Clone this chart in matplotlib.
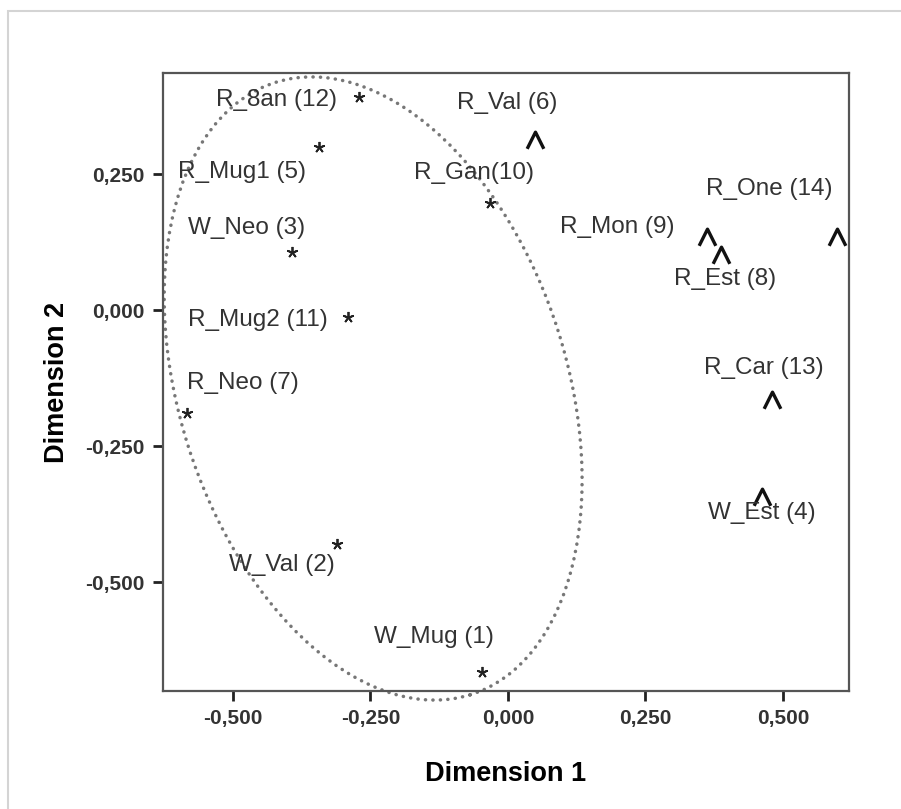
import matplotlib
matplotlib.use("Agg")
import matplotlib.pyplot as plt
from matplotlib.patches import Ellipse, Rectangle
from matplotlib.path import Path
from matplotlib.ticker import FuncFormatter

plt.rcParams['font.family'] = ['Liberation Sans', 'DejaVu Sans']

# MDS object points (dimension 1, dimension 2)
labels = ["W_Mug (1)", "W_Val (2)", "W_Neo (3)", "W_Est (4)", "R_Mug1 (5)",
          "R_Val (6)", "R_Neo (7)", "R_Est (8)", "R_Mon (9)", "R_Gan(10)",
          "R_Mug2 (11)", "R_8an (12)", "R_Car (13)", "R_One (14)"]
dim1 = [-0.047, -0.311, -0.393, 0.462, -0.344, 0.049, -0.584, 0.387, 0.362,
        -0.033, -0.291, -0.271, 0.480, 0.598]
dim2 = [-0.665, -0.430, 0.107, -0.344, 0.300, 0.313, -0.189, 0.101, 0.134,
        0.197, -0.013, 0.392, -0.165, 0.134]
group = ["star", "star", "star", "caret", "star", "caret", "star", "caret",
         "caret", "star", "star", "star", "caret", "caret"]

# label offsets from the point, in pixels
label_offsets = [(-48, 35), (-55, -21), (-45, 24), (0, -16), (-77, -25),
                 (-28, 37), (56, 30), (4, -24), (-90, 10), (-16, 30),
                 (-90, -3), (-82, -3), (-8, 32), (-68, 48)]

xticks = [-0.5, -0.25, 0.0, 0.25, 0.5]
yticks = [-0.5, -0.25, 0.0, 0.25]

fig = plt.figure(figsize=(9.01, 8.09), dpi=100)

# light outer frame
fig.add_artist(Rectangle((8 / 901, -0.5), 2, 0.9864 + 0.5, transform=fig.transFigure,
                         fill=False, edgecolor='#d4d4d4', lw=1.5))

ax = fig.add_axes([0.1809, 0.1459, 0.7614, 0.7639])

caret = Path([(-0.5, -0.5), (0, 0.5), (0.5, -0.5)],
             [Path.MOVETO, Path.LINETO, Path.LINETO])

for x, y, g in zip(dim1, dim2, group):
    if g == "star":
        ax.plot(x, y, marker=(5, 2, 0), markersize=8, color='#222222',
                markeredgewidth=1.3, linestyle='none')
    else:
        ax.plot(x, y, marker=caret, markersize=12, markerfacecolor='none',
                markeredgecolor='#111111', markeredgewidth=2.4, linestyle='none')

for lab, x, y, off in zip(labels, dim1, dim2, label_offsets):
    ax.annotate(lab, (x, y), xytext=off, textcoords='offset pixels',
                ha='center', va='center', fontsize=17.5, color='#333333')

# cluster ellipse
ell = Ellipse((-0.245, -0.144), width=0.705, height=1.18, angle=17.4,
              fill=False, edgecolor='#777777', lw=2.5, linestyle=(0, (0.05, 2.1)),
              capstyle='round', clip_on=False)
ax.add_patch(ell)

ax.set_xlim(-0.627, 0.620)
ax.set_ylim(-0.700, 0.436)
ax.set_xticks(xticks)
ax.set_yticks(yticks)
fmt = FuncFormatter(lambda v, p: f"{v:.3f}".replace('.', ',').replace('-0,000', '0,000'))
ax.xaxis.set_major_formatter(fmt)
ax.yaxis.set_major_formatter(fmt)
ax.tick_params(direction='out', length=7, width=2, color='#222222',
               labelsize=15, labelcolor='#333333', pad=6)
for t in ax.get_xticklabels() + ax.get_yticklabels():
    t.set_fontweight('bold')

for s in ax.spines.values():
    s.set_color('#555555')
    s.set_linewidth(1.6)

ax.set_xlabel("Dimension 1", fontsize=19.5, fontweight='bold', labelpad=24)
ax.set_ylabel("Dimension 2", fontsize=19.5, fontweight='bold', labelpad=11)

fig.savefig("out.png", dpi=100)
